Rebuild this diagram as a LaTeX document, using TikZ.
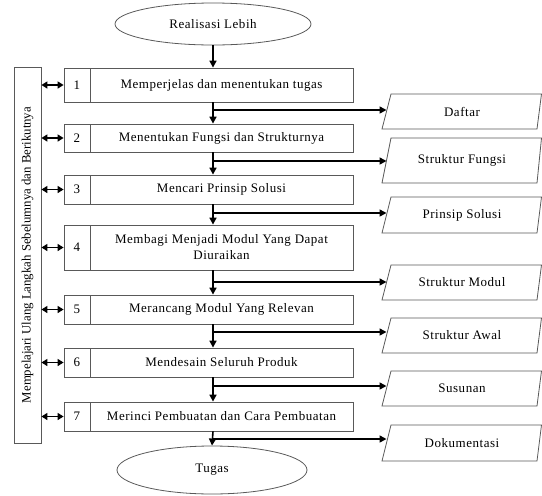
\documentclass[tikz,border=0pt]{standalone}
\usepackage{fontspec}
\setmainfont[LetterSpace=4]{Liberation Serif}
\newfontfamily\sidefont{Liberation Serif}
\usetikzlibrary{arrows.meta,shapes.geometric}
\begin{document}
\begin{tikzpicture}[x=1pt,y=-1pt,
  font=\fontsize{13}{16}\selectfont,
  edge/.style={draw=black!65, line width=0.8pt},
  oval/.style={ellipse, edge, inner sep=0pt},
  numbox/.style={edge, minimum width=26pt, inner sep=0pt, anchor=center},
  stepbox/.style={edge, minimum width=263pt, inner sep=0pt, align=center, anchor=center},
  flow/.style={line width=1.6pt, -{Triangle[length=7pt,width=7pt]}},
  dbl/.style={line width=1.6pt, {Triangle[length=6pt,width=7pt]}-{Triangle[length=6pt,width=7pt]}},
  outtext/.style={inner sep=0pt}
]
\useasboundingbox (0,0) rectangle (542,496);

% ellipses
\node[oval, minimum width=196pt, minimum height=42pt] (start) at (213,24) {Realisasi Lebih};
\node[oval, minimum width=190pt, minimum height=48pt] (stop) at (212,470) {Tugas};

% steps
\foreach \i/\cy/\h/\t in {
  1/85/34/{Memperjelas dan menentukan tugas},
  2/138/28/{Menentukan Fungsi dan Strukturnya},
  3/189.5/29/{Mencari Prinsip Solusi},
  4/247.5/45/{Membagi Menjadi Modul Yang Dapat\\Diuraikan},
  5/309.5/29/{Merancang Modul Yang Relevan},
  6/362.5/29/{Mendesain Seluruh Produk},
  7/416.5/29/{Merinci Pembuatan dan Cara Pembuatan}}{
  \node[numbox, minimum height=\h pt] (n\i) at (77,\cy) {\i};
  \node[stepbox, minimum height=\h pt] (s\i) at (221.5,\cy) {\t};
}

% side box
\node[edge, minimum width=27pt, minimum height=376pt, inner sep=0pt] (side) at (27.5,255) {};
\node[rotate=90, font=\sidefont\fontsize{12.8}{15}\selectfont] (sidetext) at (side.center) {Mempelajari Ulang Langkah Sebelumnya dan Berikutnya};

\foreach \i in {1,...,7}{
  \draw[dbl] (side.east |- n\i.west) -- (n\i.west);
}

% vertical flow
\coordinate (axis) at (213,0);
\draw[flow] (start.south) -- (start.south |- s1.north);
\draw[flow] (axis |- s1.south) -- (axis |- s2.north);
\draw[flow] (axis |- s2.south) -- (axis |- s3.north);
\draw[flow] (axis |- s3.south) -- (axis |- s4.north);
\draw[flow] (axis |- s4.south) -- (axis |- s5.north);
\draw[flow] (axis |- s5.south) -- (axis |- s6.north);
\draw[flow] (axis |- s6.south) -- (axis |- s7.north);
\draw[flow] (axis |- s7.south) -- (stop.north);

% outputs
\foreach \i/\top/\bot/\ly/\t in {
  1/94/129/110/{Daftar},
  2/138/183/161/{Struktur Fungsi},
  3/197/233/213/{Prinsip Solusi},
  4/265/300/282/{Struktur Modul},
  5/318/353/332/{Struktur Awal},
  6/371/406/386/{Susunan},
  7/425/461/439/{Dokumentasi}}{
  \draw[edge] (382,\bot) -- (391,\top) -- (541.5,\top) -- (537,\bot) -- cycle;
  \node[outtext] (o\i) at (462,{(\top+\bot)/2}) {\t};
  \coordinate (in\i) at (386.5,\ly);
  \coordinate (j\i) at (213,\ly);
  \draw[flow] (j\i) -- (in\i);
}
\end{tikzpicture}
\end{document}
